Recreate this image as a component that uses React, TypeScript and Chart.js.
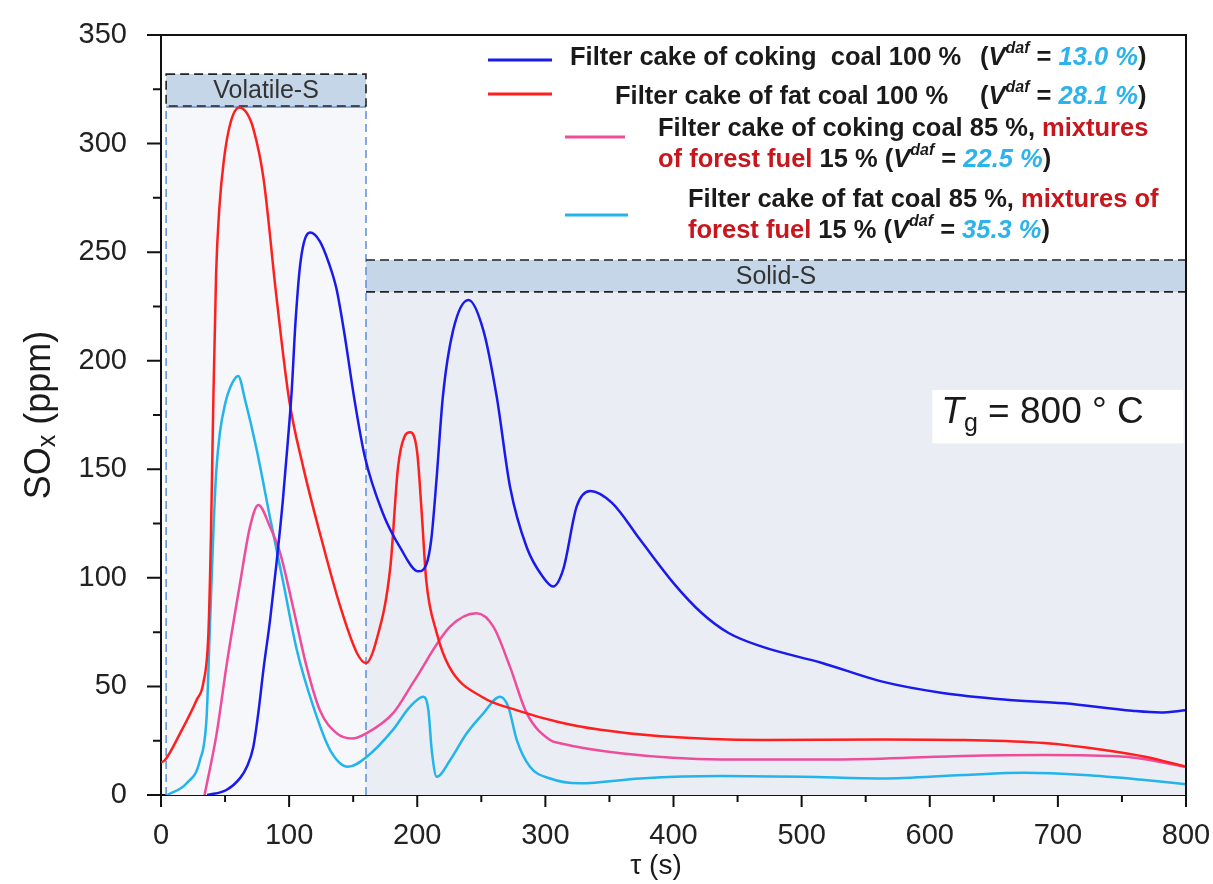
import React, { useEffect, useRef } from 'react';
import { Chart, registerables } from 'chart.js';

Chart.register(...registerables);

const FONT = "'Liberation Sans', Arial, Helvetica, sans-serif";

// ---- data (τ in s, SOx in ppm) ----
const cokingT = [36, 51, 62, 67, 72, 76, 80, 85, 90, 95, 99, 102, 105, 109, 116.3, 124, 131, 137, 143, 151, 159, 173, 186.6, 200.9, 207, 211, 215, 220, 228, 240, 251.6, 262, 272.4, 285.5, 298, 306, 314, 324.5, 335, 352, 374, 400, 422, 443, 469, 516, 563, 610, 658, 705, 758, 780, 800];
const cokingV = [0, 2.3, 8, 13, 22, 38, 58, 80, 106, 135, 163, 186, 218, 246, 259, 255, 245, 233, 213, 182, 156, 130, 114, 103, 106, 118, 145, 183.5, 214, 228, 214, 183.5, 142, 114, 100.5, 96, 104, 133, 140, 134.5, 117.5, 97.6, 83.8, 74.6, 68.3, 60.8, 52.2, 47, 44, 42.2, 38.8, 38, 39];

const fatT = [0, 3, 15, 28, 33, 37, 39, 40.8, 43, 45.5, 49, 54, 61, 67, 72, 80, 90, 100, 111, 124, 140, 153, 160, 168, 179, 185, 190, 194.5, 200, 203.5, 207, 215, 225, 251, 278, 311, 343, 390, 469, 563, 626, 689, 736, 768, 800];
const fatV = [15, 16, 28.5, 44, 51.5, 74.5, 120, 180, 240, 270, 292, 309, 316.6, 314, 307, 284, 230, 182, 151, 120.6, 86.6, 65.3, 60.8, 71, 105, 151, 165, 167, 157.5, 129.8, 99, 75, 59, 45, 39, 33.5, 30, 27, 25.3, 25.6, 25.3, 23.9, 20.7, 17.6, 13];

const cokingMixT = [34, 43.5, 51, 61.7, 69.5, 76, 85, 93, 103, 113.7, 124, 137, 149, 160.6, 181, 197, 225.6, 246.4, 259.4, 272.4, 285.5, 303.7, 311.5, 358.7, 437, 531.6, 626, 689, 752, 800];
const cokingMixV = [0, 28.5, 59, 97.6, 123.6, 133.6, 123.6, 111.4, 86.7, 59, 39, 28.5, 26, 28.5, 37.6, 52, 77.5, 83.7, 77.5, 59, 37.6, 25.3, 23.8, 19.2, 16.4, 16.4, 18, 18.4, 17.6, 13];

const fatMixT = [5, 20, 30.4, 35.6, 38, 40.8, 43, 46, 50, 55, 60.3, 65.6, 74.7, 85, 95.5, 106, 118.9, 132, 146, 160.6, 181, 194.4, 204.8, 208.7, 211.3, 215.2, 225.6, 238.6, 251.6, 264.6, 271, 277.7, 288, 303.7, 327, 374, 437, 500, 563, 626, 673.5, 720.5, 768, 800];
const fatMixV = [0, 5.4, 16, 36, 74.5, 120, 148, 167, 180, 189, 193, 182, 159, 128, 97.6, 66.8, 40.7, 20.7, 13, 17.6, 30, 40.7, 45.3, 39, 20.7, 8.4, 16, 28.4, 37.6, 45.3, 40.7, 25.3, 13, 7.6, 5.4, 7.6, 8.7, 8.4, 7.6, 9.2, 10.2, 9.2, 6.9, 5];

const seriesLabels = [
  'Filter cake of coking  coal 100 %   (Vdaf = 13.0 %)',
  'Filter cake of fat coal 100 %    (Vdaf = 28.1 %)',
  'Filter cake of coking coal 85 %, mixtures of forest fuel 15 % (Vdaf = 22.5 %)',
  'Filter cake of fat coal 85 %, mixtures of forest fuel 15 % (Vdaf = 35.3 %)',
];
const vdafValues = ['13.0 %', '28.1 %', '22.5 %', '35.3 %'];

// zones (data units)
const volatileX = [4, 160];
const volatileY = [317.3, 332];
const solidX = [160, 800];
const solidY = [231.7, 246.4];
const tgBoxX = [602, 798];
const tgBoxY = [162, 186.5];

const BLUE = '#1a1aec';
const RED = '#ff1f1f';
const PINK = '#ee4c9c';
const CYAN = '#22b4ea';
const VCYAN = '#2cb3ec';
const DARKRED = '#c8161d';
const TXT = '#1a1a1a';

type Run = { t: string; c?: string; i?: boolean; sup?: boolean };

const vdaf = (val: string): Run[] => [
  { t: '(' },
  { t: 'V', i: true },
  { t: 'daf', i: true, sup: true },
  { t: ' = ' },
  { t: val, i: true, c: VCYAN },
  { t: ')' },
];

function drawRuns(ctx: CanvasRenderingContext2D, x: number, y: number, runs: Run[], size: number) {
  let cx = x;
  for (const r of runs) {
    const fs = r.sup ? Math.round(size * 0.62) : size;
    ctx.font = `${r.i ? 'italic ' : ''}bold ${fs}px ${FONT}`;
    ctx.fillStyle = r.c || TXT;
    ctx.fillText(r.t, cx, r.sup ? y - size * 0.36 : y);
    cx += ctx.measureText(r.t).width;
  }
  return cx;
}

const pts = (t: number[], v: number[]) => t.map((x, i) => ({ x, y: v[i] }));

const zeroPad = (s: any) => {
  s.paddingTop = 0;
  s.paddingBottom = 0;
  s.paddingLeft = 0;
  s.paddingRight = 0;
};

const decor = {
  id: 'decor',
  beforeDatasetsDraw(chart: any) {
    const { ctx, scales } = chart;
    const X = (v: number) => scales.x.getPixelForValue(v);
    const Y = (v: number) => scales.y.getPixelForValue(v);
    ctx.save();
    // bodies
    ctx.fillStyle = '#f6f7fa';
    ctx.fillRect(X(volatileX[0]), Y(volatileY[0]), X(volatileX[1]) - X(volatileX[0]), Y(0) - Y(volatileY[0]));
    ctx.fillStyle = '#eaeef4';
    ctx.fillRect(X(solidX[0]), Y(solidY[0]), X(solidX[1]) - X(solidX[0]), Y(0) - Y(solidY[0]));
    // headers
    ctx.fillStyle = '#c4d6e8';
    ctx.fillRect(X(volatileX[0]), Y(volatileY[1]), X(volatileX[1]) - X(volatileX[0]), Y(volatileY[0]) - Y(volatileY[1]));
    ctx.fillRect(X(solidX[0]), Y(solidY[1]), X(solidX[1]) - X(solidX[0]), Y(solidY[0]) - Y(solidY[1]));
    // blue dashed verticals
    ctx.strokeStyle = '#5b8fd9';
    ctx.lineWidth = 1.5;
    ctx.setLineDash([8, 5]);
    for (const xv of [volatileX[0], volatileX[1]]) {
      ctx.beginPath();
      ctx.moveTo(X(xv), Y(0));
      ctx.lineTo(X(xv), Y(volatileY[0]));
      ctx.stroke();
    }
    ctx.setLineDash([]);
    ctx.beginPath();
    ctx.moveTo(X(volatileX[0]), Y(volatileY[0]) + 1);
    ctx.lineTo(X(volatileX[1]), Y(volatileY[0]) + 1);
    ctx.stroke();
    // black dashed header borders
    ctx.strokeStyle = '#222';
    ctx.lineWidth = 1.6;
    ctx.setLineDash([9, 5]);
    ctx.strokeRect(X(volatileX[0]), Y(volatileY[1]), X(volatileX[1]) - X(volatileX[0]), Y(volatileY[0]) - Y(volatileY[1]));
    for (const yv of solidY) {
      ctx.beginPath();
      ctx.moveTo(X(solidX[0]), Y(yv));
      ctx.lineTo(X(solidX[1]), Y(yv));
      ctx.stroke();
    }
    ctx.setLineDash([]);
    // header texts
    ctx.fillStyle = '#333';
    ctx.font = `25px ${FONT}`;
    ctx.textAlign = 'center';
    ctx.textBaseline = 'middle';
    ctx.fillText('Volatile-S', (X(volatileX[0]) + X(volatileX[1])) / 2, (Y(volatileY[0]) + Y(volatileY[1])) / 2 + 1);
    ctx.fillText('Solid-S', (X(solidX[0]) + X(solidX[1])) / 2, (Y(solidY[0]) + Y(solidY[1])) / 2 + 1);
    // Tg box
    ctx.fillStyle = '#ffffff';
    ctx.fillRect(X(tgBoxX[0]), Y(tgBoxY[1]), X(tgBoxX[1]) - X(tgBoxX[0]), Y(tgBoxY[0]) - Y(tgBoxY[1]));
    ctx.textAlign = 'left';
    ctx.textBaseline = 'alphabetic';
    ctx.fillStyle = TXT;
    let tx = X(tgBoxX[0]) + 9;
    const by = Y(tgBoxY[0]) - 20;
    ctx.font = `italic 37px ${FONT}`;
    ctx.fillText('T', tx, by);
    tx += ctx.measureText('T').width;
    ctx.font = `25px ${FONT}`;
    ctx.fillText('g', tx, by + 8);
    tx += ctx.measureText('g').width;
    ctx.font = `37px ${FONT}`;
    ctx.fillText(' = 800 ° C', tx, by);
    ctx.restore();
  },
  afterDraw(chart: any) {
    const { ctx, scales, chartArea: a } = chart;
    const X = (v: number) => scales.x.getPixelForValue(v);
    const Y = (v: number) => scales.y.getPixelForValue(v);
    ctx.save();
    ctx.strokeStyle = '#111';
    ctx.lineWidth = 2;
    // frame top & right
    ctx.beginPath();
    ctx.moveTo(a.left, a.top);
    ctx.lineTo(a.right, a.top);
    ctx.lineTo(a.right, a.bottom);
    ctx.stroke();
    // ticks
    ctx.beginPath();
    for (let v = 0; v <= 800; v += 50) {
      const len = v % 100 === 0 ? 12 : 7;
      ctx.moveTo(X(v), a.bottom);
      ctx.lineTo(X(v), a.bottom + len);
    }
    for (let v = 0; v <= 350; v += 25) {
      const len = v % 50 === 0 ? 14 : 8;
      ctx.moveTo(a.left, Y(v));
      ctx.lineTo(a.left - len, Y(v));
    }
    ctx.stroke();
    // axis titles
    ctx.fillStyle = TXT;
    ctx.textBaseline = 'middle';
    ctx.textAlign = 'left';
    ctx.save();
    ctx.translate(40, 415);
    ctx.rotate(-Math.PI / 2);
    const big = 36, small = 25;
    ctx.font = `${big}px ${FONT}`;
    const w1 = ctx.measureText('SO').width;
    const w3 = ctx.measureText(' (ppm)').width;
    ctx.font = `${small}px ${FONT}`;
    const w2 = ctx.measureText('x').width;
    let sx = -(w1 + w2 + w3) / 2;
    ctx.font = `${big}px ${FONT}`;
    ctx.fillText('SO', sx, 0);
    sx += w1;
    ctx.font = `${small}px ${FONT}`;
    ctx.fillText('x', sx, 8);
    sx += w2;
    ctx.font = `${big}px ${FONT}`;
    ctx.fillText(' (ppm)', sx, 0);
    ctx.restore();
    ctx.font = `28px ${FONT}`;
    ctx.textAlign = 'center';
    ctx.fillText('τ (s)', 656, 866);
    // legend
    ctx.textAlign = 'left';
    ctx.lineWidth = 3;
    const samples: [string, number, number, number][] = [
      [BLUE, 488, 552, 60],
      [RED, 488, 552, 94],
      [PINK, 565, 625, 137],
      [CYAN, 565, 628, 215],
    ];
    for (const [c, x0, x1, y] of samples) {
      ctx.strokeStyle = c;
      ctx.beginPath();
      ctx.moveTo(x0, y);
      ctx.lineTo(x1, y);
      ctx.stroke();
    }
    const S = 25.5;
    drawRuns(ctx, 570, 58, [{ t: 'Filter cake of coking  coal 100 %' }], S);
    drawRuns(ctx, 980, 58, vdaf(vdafValues[0]), S);
    drawRuns(ctx, 615, 97, [{ t: 'Filter cake of fat coal 100 %' }], S);
    drawRuns(ctx, 980, 97, vdaf(vdafValues[1]), S);
    drawRuns(ctx, 658, 129, [{ t: 'Filter cake of coking coal 85 %, ' }, { t: 'mixtures', c: DARKRED }], S);
    drawRuns(ctx, 658, 160, [{ t: 'of forest fuel', c: DARKRED }, { t: ' 15 % ' }, ...vdaf(vdafValues[2])], S);
    drawRuns(ctx, 688, 200, [{ t: 'Filter cake of fat coal 85 %, ' }, { t: 'mixtures of', c: DARKRED }], S);
    drawRuns(ctx, 688, 231, [{ t: 'forest fuel', c: DARKRED }, { t: ' 15 % ' }, ...vdaf(vdafValues[3])], S);
    ctx.restore();
  },
};

export default function App() {
  const ref = useRef<HTMLCanvasElement>(null);
  useEffect(() => {
    const line = (label: string, data: any, color: string) => ({
      label,
      data,
      borderColor: color,
      backgroundColor: color,
      borderWidth: 2.5,
      pointRadius: 0,
      fill: false,
      cubicInterpolationMode: 'monotone' as const,
    });
    const chart = new Chart(ref.current!, {
      type: 'line',
      data: {
        datasets: [
          line(seriesLabels[0], pts(cokingT, cokingV), BLUE),
          line(seriesLabels[1], pts(fatT, fatV), RED),
          line(seriesLabels[2], pts(cokingMixT, cokingMixV), PINK),
          line(seriesLabels[3], pts(fatMixT, fatMixV), CYAN),
        ],
      },
      options: {
        responsive: false,
        animation: false,
        layout: { padding: { top: 35, right: 27, left: 0, bottom: 0 } },
        plugins: { legend: { display: false }, tooltip: { enabled: false } },
        scales: {
          x: {
            type: 'linear',
            min: 0,
            max: 800,
            grid: { display: false, drawTicks: false },
            border: { display: true, color: '#111', width: 2 },
            ticks: { stepSize: 100, font: { family: FONT, size: 29 }, color: '#222', padding: 24, maxRotation: 0 },
            afterFit: (s: any) => { s.height = 89; zeroPad(s); },
          },
          y: {
            min: 0,
            max: 350,
            grid: { display: false, drawTicks: false },
            border: { display: true, color: '#111', width: 2 },
            ticks: { stepSize: 50, font: { family: FONT, size: 29 }, color: '#222', padding: 34 },
            afterFit: (s: any) => { s.width = 161; zeroPad(s); },
          },
        },
      },
      plugins: [decor],
    });
    return () => chart.destroy();
  }, []);
  return (
    <div style={{ position: 'absolute', left: 0, top: 0, width: 1213, height: 884 }}>
      <canvas ref={ref} width={1213} height={884} />
    </div>
  );
}
